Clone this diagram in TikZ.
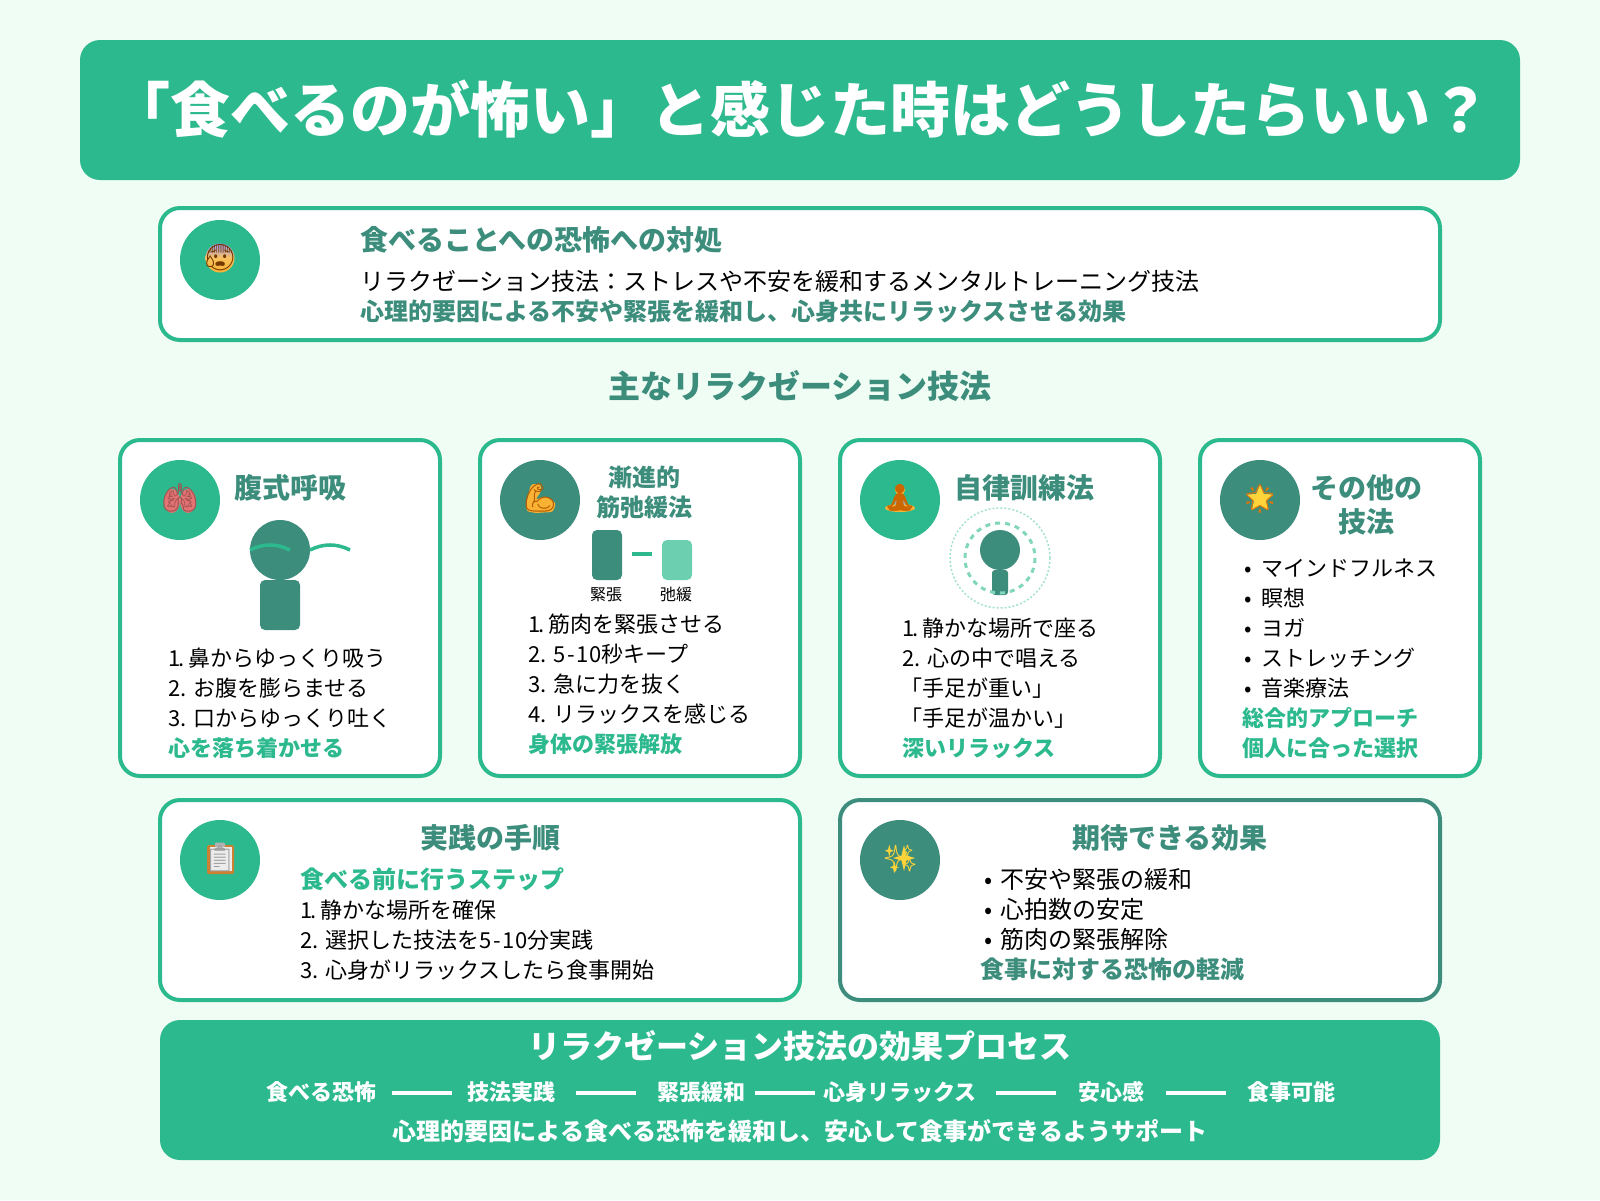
\documentclass[tikz,border=0pt]{standalone}
\usepackage{fontspec}
\usetikzlibrary{shapes.geometric}
\setmainfont{Noto Sans CJK JP}
\newfontfamily\emojifont{Noto Emoji}
\definecolor{mintbg}{HTML}{F0FDF4}
\definecolor{leaf}{HTML}{2DB98E}
\definecolor{pine}{HTML}{3C8D7C}
\definecolor{paleleaf}{HTML}{6BCFB0}
\definecolor{amber}{HTML}{F9B233}
\definecolor{gold}{HTML}{FFD43B}
\definecolor{lungred}{HTML}{E57373}

\begin{document}
\begin{tikzpicture}[x=1pt,y=-1pt,
    cardbox/.style={draw=leaf, line width=4pt, fill=white, rounded corners=20pt},
    pinebox/.style={draw=pine, line width=4pt, fill=white, rounded corners=20pt},
    iconleaf/.style={circle, fill=leaf, minimum size=80pt, inner sep=0pt},
    iconpine/.style={circle, fill=pine, minimum size=80pt, inner sep=0pt},
    emoji/.style={inner sep=0pt, font=\emojifont\fontsize{28}{28}\selectfont},
    headline/.style={anchor=base, inner sep=0pt, text=pine, font=\bfseries\fontsize{28}{34}\selectfont},
    bodyline/.style={anchor=base west, inner sep=0pt, font=\fontsize{22}{30}\selectfont},
    bigline/.style={anchor=base west, inner sep=0pt, font=\fontsize{24}{30}\selectfont},
    noteline/.style={anchor=base west, inner sep=0pt, text=leaf, font=\bfseries\fontsize{22}{30}\selectfont},
    flowlabel/.style={anchor=base, inner sep=0pt, text=white, font=\bfseries\fontsize{22}{30}\selectfont},
    flowline/.style={draw=white, line width=4pt}]
    \useasboundingbox (0,0) rectangle (1600,1200);
    \fill[mintbg] (0,0) rectangle (1600,1200);

    % title
    \fill[leaf, rounded corners=20pt] (80,40) rectangle (1520,180);
    \node[anchor=base, inner sep=0pt, text=white, font=\bfseries\fontsize{60}{70}\selectfont] (title) at (800,132) {「食べるのが怖い」と感じた時はどうしたらいい？};

    % top card
    \draw[cardbox] (160,208) rectangle (1440,340);
    \node[iconleaf] (fearicon) at (220,260) {};
    \shade[top color=blue!40!white, bottom color=amber, middle color=amber!80!white] (220,258) circle (14.5);
    \node[emoji, text=orange!45!black, font=\emojifont\fontsize{26}{26}\selectfont] (fearglyph) at (220,258) {😰};
    \node[headline, anchor=base west] (fearhead) at (360,250) {食べることへの恐怖への対処};
    \node[bigline] (fearbody) at (360,290) {リラクゼーション技法：ストレスや不安を緩和するメンタルトレーニング技法};
    \node[bigline, text=pine, font=\bfseries\fontsize{24}{30}\selectfont] (fearnote) at (360,320) {心理的要因による不安や緊張を緩和し、心身共にリラックスさせる効果};

    \node[headline, font=\bfseries\fontsize{32}{40}\selectfont] (mainhead) at (800,398) {主なリラクゼーション技法};

    % breathing card
    \draw[cardbox] (120,440) rectangle (440,776);
    \node[iconleaf] (lungicon) at (180,500) {};
    \fill[lungred] (172,501) ellipse (8 and 12);
    \fill[lungred] (188,501) ellipse (8 and 12);
    \node[emoji, text=lungred!70!black] (lungglyph) at (180,498) {🫁};
    \node[headline] (lunghead) at (290,498) {腹式呼吸};
    \fill[pine] (280,550) circle (30);
    \fill[pine, rounded corners=5pt] (260,580) rectangle (300,630);
    \draw[leaf, line width=3.5pt] (250,550) .. controls (263.3,543.3) and (276.7,543.3) .. (290,550);
    \draw[leaf, line width=3.5pt] (310,550) .. controls (323.3,543.3) and (336.7,543.3) .. (350,550);
    \node[bodyline] (lung1) at (168,666) {1\kern-2pt.\kern3.5pt 鼻からゆっくり吸う};
    \node[bodyline] (lung2) at (168,696) {2. お腹を膨らませる};
    \node[bodyline] (lung3) at (168,726) {3. 口からゆっくり吐く};
    \node[noteline] (lungnote) at (168,756) {心を落ち着かせる};

    % muscle card
    \draw[cardbox] (480,440) rectangle (800,776);
    \node[iconpine] (armicon) at (540,500) {};
    \fill[amber, rounded corners=3pt] (531,484) -- (541,484) -- (541,492) -- (535,500) -- (545,496) -- (556,503) -- (553,512) -- (535,513) -- (526,511) -- (527,500) -- cycle;
    \node[emoji, text=orange!70!black] (armglyph) at (540,498) {💪};
    \node[headline, font=\bfseries\fontsize{24}{30}\selectfont] (armhead1) at (644,486) {漸進的};
    \node[headline, font=\bfseries\fontsize{24}{30}\selectfont] (armhead2) at (644,516) {筋弛緩法};
    \node[fill=pine, rounded corners=5pt, minimum width=30pt, minimum height=50pt, inner sep=0pt] (tense) at (607,555) {};
    \node[fill=paleleaf, rounded corners=5pt, minimum width=30pt, minimum height=40pt, inner sep=0pt] (relax) at (677,560) {};
    \draw[leaf, line width=4pt, shorten <=10pt, shorten >=10pt] (tense.east |- 0,554) -- (relax.west |- 0,554);
    \node[anchor=base, inner sep=0pt, font=\fontsize{16}{20}\selectfont] (tenselabel) at (606,600) {緊張};
    \node[anchor=base, inner sep=0pt, font=\fontsize{16}{20}\selectfont] (relaxlabel) at (676,600) {弛緩};
    \node[bodyline] (arm1) at (528,632) {1\kern-2pt.\kern3.5pt 筋肉を緊張させる};
    \node[bodyline] (arm2) at (528,662) {2. 5\kern2pt-\kern2pt10秒キープ};
    \node[bodyline] (arm3) at (528,692) {3. 急に力を抜く};
    \node[bodyline] (arm4) at (528,722) {4. リラックスを感じる};
    \node[noteline] (armnote) at (528,752) {身体の緊張解放};

    % autogenic card
    \draw[cardbox] (840,440) rectangle (1160,776);
    \node[iconleaf] (zenicon) at (900,500) {};
    \fill[amber] (900,490) circle (5);
    \fill[amber] (900,508) ellipse (15 and 4);
    \fill[gray!65!white, rounded corners=2pt] (895,495) rectangle (905,506);
    \node[emoji, text=orange!80!black] (zenglyph) at (900,498) {🧘};
    \node[headline] (zenhead) at (1024,498) {自律訓練法};
    \fill[pine] (1000,550) circle (20);
    \fill[pine, rounded corners=3pt] (992,570) rectangle (1008,595);
    \draw[paleleaf!85!white, line width=3pt, dash pattern=on 5pt off 5pt] (1000,558) circle (35);
    \draw[paleleaf!60!white, line width=1.5pt, dash pattern=on 2pt off 2pt] (1000,558) circle (50);
    \node[bodyline] (zen1) at (902,636) {1\kern-2pt.\kern3.5pt 静かな場所で座る};
    \node[bodyline] (zen2) at (902,666) {2. 心の中で唱える};
    \node[bodyline] (zen3) at (900.5,696) {「手足が重い」};
    \node[bodyline] (zen4) at (900.5,726) {「手足が温かい」};
    \node[noteline] (zennote) at (902,756) {深いリラックス};

    % other card
    \draw[cardbox] (1200,440) rectangle (1480,776);
    \node[iconpine] (staricon) at (1260,500) {};
    \node[star, star points=5, star point ratio=2.2, fill=gold, minimum size=28pt, inner sep=0pt] (starfill) at (1260,499) {};
    \node[emoji, text=orange!90!black] (starglyph) at (1260,499) {🌟};
    \node[headline] (starhead1) at (1366,498) {その他の};
    \node[headline] (starhead2) at (1366,532) {技法};
    \node[bodyline] (star1) at (1244,576) {•\kern10pt マインドフルネス};
    \node[bodyline] (star2) at (1244,606) {•\kern10pt 瞑想};
    \node[bodyline] (star3) at (1244,636) {•\kern10pt ヨガ};
    \node[bodyline] (star4) at (1244,666) {•\kern10pt ストレッチング};
    \node[bodyline] (star5) at (1244,696) {•\kern10pt 音楽療法};
    \node[noteline] (starnote1) at (1242,726) {総合的アプローチ};
    \node[noteline] (starnote2) at (1242,756) {個人に合った選択};

    % practice card
    \draw[cardbox] (160,800) rectangle (800,1000);
    \node[iconleaf] (clipicon) at (220,860) {};
    \fill[brown!80!orange, rounded corners=1.5pt] (207,845) rectangle (234,874);
    \fill[gray!15!white] (209.5,847) rectangle (231.5,871);
    \fill[gray!60!white, rounded corners=1pt] (215,842.5) rectangle (225,847);
    \node[emoji, text=gray!75!white, font=\emojifont\fontsize{26}{26}\selectfont] (clipglyph) at (220,859) {📋};
    \node[headline] (stephead) at (490,848) {実践の手順};
    \node[noteline, font=\bfseries\fontsize{24}{30}\selectfont] (stepnote) at (300,888) {食べる前に行うステップ};
    \node[bodyline] (step1) at (300,918) {1\kern-2pt.\kern3.5pt 静かな場所を確保};
    \node[bodyline] (step2) at (300,948) {2. 選択した技法を5\kern2pt-\kern2pt10分実践};
    \node[bodyline] (step3) at (300,978) {3. 心身がリラックスしたら食事開始};

    % effect card
    \draw[pinebox] (840,800) rectangle (1440,1000);
    \node[iconpine] (sparkicon) at (900,860) {};
    \fill[gold] (904,845) -- (906.5,855.5) -- (915,858) -- (906.5,860.5) -- (904,871) -- (901.5,860.5) -- (893,858) -- (901.5,855.5) -- cycle;
    \fill[gold] (889.3,844.7) -- (890.5,849.5) -- (893.8,850.7) -- (890.5,851.9) -- (889.3,856.7) -- (888.1,851.9) -- (884.8,850.7) -- (888.1,849.5) -- cycle;
    \fill[gold] (894.3,861.3) -- (895.5,866.1) -- (898.8,867.3) -- (895.5,868.5) -- (894.3,873.3) -- (893.1,868.5) -- (889.8,867.3) -- (893.1,866.1) -- cycle;
    \node[emoji, text=gold, xscale=-1, transform shape, font=\emojifont\fontsize{26}{26}\selectfont] (sparkglyph) at (900,859) {✨};
    \node[headline] (gainhead) at (1170,848) {期待できる効果};
    \node[bigline] (gain1) at (984,888) {•\kern8.5pt 不安や緊張の緩和};
    \node[bigline] (gain2) at (984,918) {•\kern8.5pt 心拍数の安定};
    \node[bigline] (gain3) at (984,948) {•\kern8.5pt 筋肉の緊張解除};
    \node[noteline, text=pine, font=\bfseries\fontsize{24}{30}\selectfont] (gainnote) at (980,978) {食事に対する恐怖の軽減};

    % process band
    \fill[leaf, rounded corners=20pt] (160,1020) rectangle (1440,1160);
    \node[headline, text=white, font=\bfseries\fontsize{32}{40}\selectfont] (bandhead) at (800,1058) {リラクゼーション技法の効果プロセス};
    \node[flowlabel] (flow1) at (321,1100) {食べる恐怖};
    \node[flowlabel] (flow2) at (511,1100) {技法実践};
    \node[flowlabel] (flow3) at (701,1100) {緊張緩和};
    \node[flowlabel] (flow4) at (900,1100) {心身リラックス};
    \node[flowlabel] (flow5) at (1111,1100) {安心感};
    \node[flowlabel] (flow6) at (1291,1100) {食事可能};
    \coordinate (rail) at (0,1093);
    \draw[flowline, shorten <=16pt, shorten >=15pt] (flow1.east |- rail) -- (flow2.west |- rail);
    \draw[flowline, shorten <=21pt, shorten >=21pt] (flow2.east |- rail) -- (flow3.west |- rail);
    \draw[flowline, shorten <=10pt, shorten >=8pt] (flow3.east |- rail) -- (flow4.west |- rail);
    \draw[flowline, shorten <=19pt, shorten >=22pt] (flow4.east |- rail) -- (flow5.west |- rail);
    \draw[flowline, shorten <=22pt, shorten >=21pt] (flow5.east |- rail) -- (flow6.west |- rail);
    \node[anchor=base, inner sep=0pt, text=white, font=\bfseries\fontsize{24}{30}\selectfont] (bandnote) at (800,1140) {心理的要因による食べる恐怖を緩和し、安心して食事ができるようサポート};
\end{tikzpicture}
\end{document}
